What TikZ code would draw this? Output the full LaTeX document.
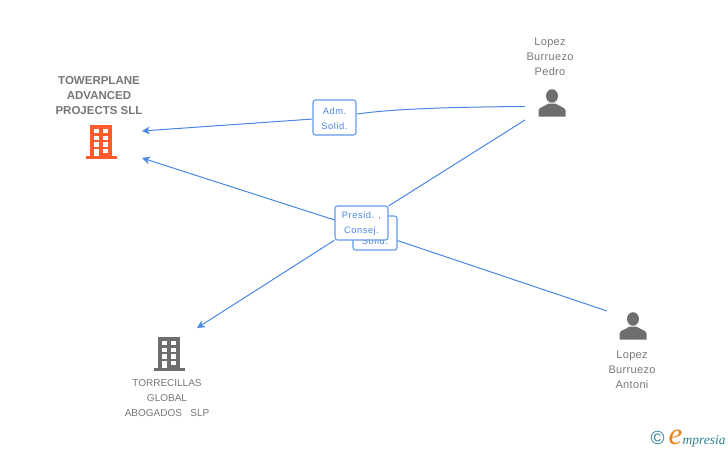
\documentclass[tikz,border=0pt]{standalone}
\usepackage{fontspec}
\setmainfont{Liberation Sans}
\newfontfamily\widefont[LetterSpace=6]{Liberation Sans}
\newfontfamily\namefont[LetterSpace=3]{Liberation Sans}
\newfontfamily\logofont{Liberation Serif}
\usetikzlibrary{arrows.meta,backgrounds}
\definecolor{linkblue}{HTML}{4A86E4}
\definecolor{boxblue}{HTML}{639AEA}
\definecolor{labelgrey}{HTML}{777777}
\definecolor{icongrey}{HTML}{6E6E6E}
\definecolor{towerorange}{HTML}{FF5A2D}
\definecolor{logoteal}{HTML}{2F7F92}
\definecolor{logoorange}{HTML}{F07F12}
\tikzset{
pics/towerblock/.style={code={
\fill[#1] (-11,-17) rectangle (11,15);
\fill[#1] (-15.5,14) rectangle (16,17);
\foreach \winy in {-13,-6,0.3}
{\fill[white] (-7,\winy) rectangle (-2.5,\winy+4.4);
\fill[white] (2,\winy) rectangle (7,\winy+4.4);}
\fill[white] (-7,7) rectangle (-2.5,14);
\fill[white] (2,7) rectangle (7,11.3);
}},
pics/personicon/.style={code={
\fill[icongrey] (0,-7.5) ellipse (6 and 6.8);
\fill[icongrey] (-13.5,13) -- (-13.5,7) .. controls (-13,3.5) and (-7,3) .. (-3.5,0) -- (3.5,0) .. controls (7,3) and (13,3.5) .. (13.5,7) -- (13.5,13) -- cycle;
}}
}
\begin{document}
\begin{tikzpicture}
[x=1pt, y=-1pt,
link/.style={linkblue, line width = 1pt},
arrowlink/.style={link, -{Stealth[length=8pt,width=8pt]}},
relbox/.style={draw=boxblue, fill=white, line width = 1.1pt, rounded corners=2.5pt, font=\widefont\fontsize{9.3}{15}\selectfont, text=linkblue, align=center, inner sep=0pt, text height=23.5pt},
company/.style={align=center, text=labelgrey, font=\fontsize{10}{15}\selectfont},
towername/.style={align=center, text=labelgrey, font=\bfseries\fontsize{11.5}{15}\selectfont},
person/.style={align=center, text=labelgrey, font=\namefont\fontsize{11}{15}\selectfont}]
\useasboundingbox (0,0) rectangle (728,450);
\node[towername] (towerplane) at (99,95.5) {TOWERPLANE\\ADVANCED\\PROJECTS SLL};
\pic at (101,142) {towerblock=towerorange};
\node[company] (torrecillas) at (167,398.5) {TORRECILLAS\\GLOBAL\\ABOGADOS\ \ \ SLP};
\pic at (169,354) {towerblock=icongrey};
\node[person] (pedro) at (550,56.5) {Lopez\\Burruezo\\Pedro};
\pic at (552,103.5) {personicon};
\node[person] (antoni) at (632,369.5) {Lopez\\Burruezo\\Antoni};
\pic at (633,326.5) {personicon};
\coordinate (pedroadm) at (525,106.5);
\coordinate (pedropres) at (525,120);
\coordinate (antonisol) at (607,311);
\coordinate (towertop) at (142,131);
\coordinate (towerlow) at (142,158);
\coordinate (torrearrow) at (197,328);
\node[relbox, minimum width=43pt, minimum height=35pt] (adm) at (334.5,117.5) {Adm.\\Solid.};
\node[relbox, minimum width=44pt, minimum height=34pt] (solid) at (375,233) {\phantom{Adm.}\\[1pt]Solid.};
\node[relbox, minimum width=53pt, minimum height=34pt] (presid) at (361.5,223) {Presid. ,\\Consej.};
\begin{pgfonlayer}{background}
\draw[link] (pedroadm) .. controls (450,107) and (390,109) .. (adm);
\draw[arrowlink] (adm) -- (towertop);
\draw[link] (pedropres) -- (presid);
\draw[arrowlink] (presid) -- (torrearrow);
\draw[link] (antonisol) -- (solid);
\draw[arrowlink] (solid) -- (towerlow);
\end{pgfonlayer}
\node[text=logoteal, font=\fontsize{19}{19}\selectfont] (copyrightmark) at (657.5,438) {©};
\node[text=logoorange, font=\logofont\itshape\fontsize{31}{31}\selectfont, inner sep=0pt, anchor=base east] (logoe) at (682.5,444) {e};
\node[text=logoteal, font=\logofont\itshape\fontsize{13.5}{14}\selectfont, inner sep=0pt, anchor=base west] (logoname) at (logoe.base east) {mpresia};
\end{tikzpicture}
\end{document}
